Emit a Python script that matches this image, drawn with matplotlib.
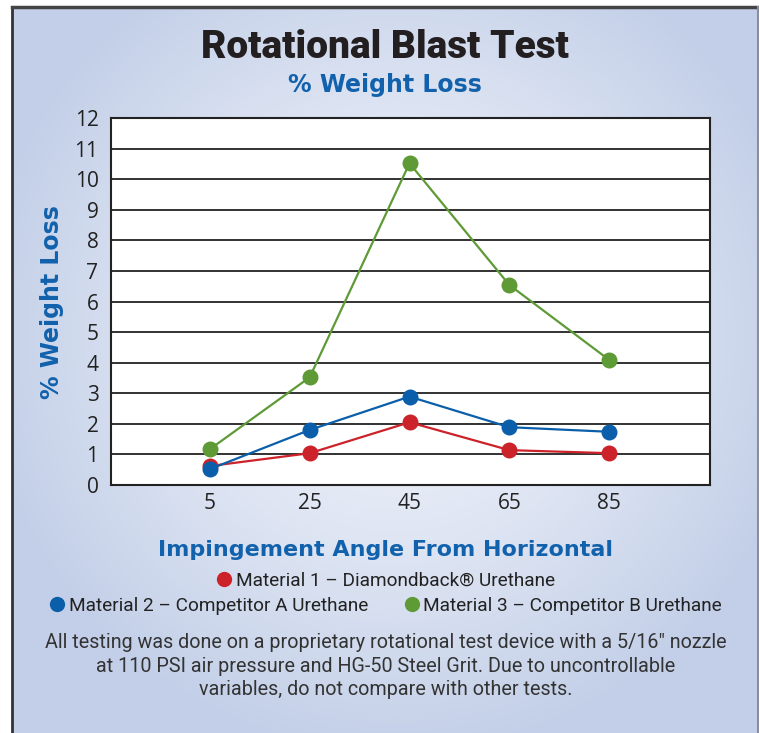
import numpy as np
import matplotlib
matplotlib.use("Agg")
import matplotlib.pyplot as plt
from matplotlib.lines import Line2D

angles = ["5", "25", "45", "65", "85"]
material_1 = [0.62, 1.04, 2.05, 1.14, 1.04]
material_2 = [0.52, 1.80, 2.89, 1.89, 1.74]
material_3 = [1.17, 3.52, 10.52, 6.54, 4.09]
series_names = ["Material 1 – Diamondback® Urethane",
                "Material 2 – Competitor A Urethane",
                "Material 3 – Competitor B Urethane"]
series_colors = ["#CC2229", "#0B5FAA", "#5E9A35"]
y_ticks = list(range(0, 13))

BLUE = "#1161AC"
DARK = "#231F20"
narrow = ["Roboto", "DejaVu Sans"]

fig = plt.figure(figsize=(7.59, 7.33), dpi=100)

# background with radial gradient inside a frame
bg = fig.add_axes([0, 0, 1, 1], zorder=-10)
bg.set_xlim(0, 759)
bg.set_ylim(733, 0)
bg.axis("off")
yy, xx = np.mgrid[0:733, 0:759]
r = np.sqrt(((xx - 390) / 420.0) ** 2 + ((yy - 330) / 420.0) ** 2)
r = np.clip(r, 0, 1)
c_in = np.array([0.94, 0.95, 0.98])
c_out = np.array([0.765, 0.815, 0.91])
img = c_in + (c_out - c_in) * (r[..., None] ** 1.4)
bg.imshow(img, extent=(12, 757, 733, 7), aspect="auto", zorder=0)
bg.plot([12, 12], [733, 7], color="#333333", lw=2, zorder=1)
bg.plot([12, 757], [7, 7], color="#444444", lw=2.5, zorder=1)
bg.plot([757.5, 757.5], [7, 733], color="#8a8fa0", lw=1.5, zorder=1)

ax = fig.add_axes([111 / 759, 1 - 485 / 733, 599 / 759, 367 / 733])
ax.set_facecolor("white")
x = np.arange(len(angles))
for vals, col in zip([material_1, material_2, material_3], series_colors):
    ax.plot(x, vals, color=col, lw=1.6, marker="o", markersize=11.5,
            markeredgewidth=0, zorder=3)

ax.set_xlim(-0.99, 5.01)
ax.set_ylim(0, 12)
ax.set_yticks(y_ticks)
ax.set_xticks(x)
ax.set_xticklabels(angles)
ax.yaxis.grid(True, color="#222222", lw=1.3)
ax.set_axisbelow(True)
ax.tick_params(length=0, labelsize=15, colors="#222222")
ax.tick_params(axis="y", pad=9)
ax.tick_params(axis="x", pad=6)
for lab in ax.get_xticklabels() + ax.get_yticklabels():
    lab.set_family("Open Sans")
for s in ax.spines.values():
    s.set_color("#222222")
    s.set_linewidth(1.5)

fig.text(52 / 759, 1 - 302 / 733, "% Weight Loss", rotation=90, ha="center",
         va="center", color=BLUE, fontsize=17, fontweight="bold",
         family=["DejaVu Sans"])
fig.text(385 / 759, 1 - 48 / 733, "Rotational Blast Test", ha="center",
         va="center", color=DARK, fontsize=28, fontweight="heavy",
         family=narrow)
fig.text(385 / 759, 1 - 85 / 733, "% Weight Loss", ha="center",
         va="center", color=BLUE, fontsize=17, fontweight="bold",
         family=["DejaVu Sans"])
fig.text(385 / 759, 1 - 550 / 733, "Impingement Angle From Horizontal",
         ha="center", va="center", color=BLUE, fontsize=16, fontweight="bold",
         family=["DejaVu Sans"])

handles = [Line2D([], [], ls="none", marker="o", markersize=11,
                  markeredgewidth=0, color=c) for c in series_colors]
fig.legend(handles[:1], series_names[:1], loc="center",
           bbox_to_anchor=(385 / 759, 1 - 581 / 733), frameon=False,
           handletextpad=0.1, handlelength=1.0, borderpad=0,
           prop={"family": narrow, "size": 13.7}, labelcolor="#222222")
fig.legend(handles[1:], series_names[1:], loc="center", ncol=2,
           bbox_to_anchor=(385 / 759, 1 - 606 / 733), frameon=False,
           handletextpad=0.1, handlelength=1.0, columnspacing=1.8, borderpad=0,
           prop={"family": narrow, "size": 13.7}, labelcolor="#222222")

note = ("All testing was done on a proprietary rotational test device with a 5/16\" nozzle\n"
        "at 110 PSI air pressure and HG-50 Steel Grit. Due to uncontrollable\n"
        "variables, do not compare with other tests.")
fig.text(386 / 759, 1 - 666 / 733, note, ha="center", va="center",
         color="#333333", fontsize=14.2, linespacing=1.27, family=narrow)

fig.savefig("out.png", dpi=100)
